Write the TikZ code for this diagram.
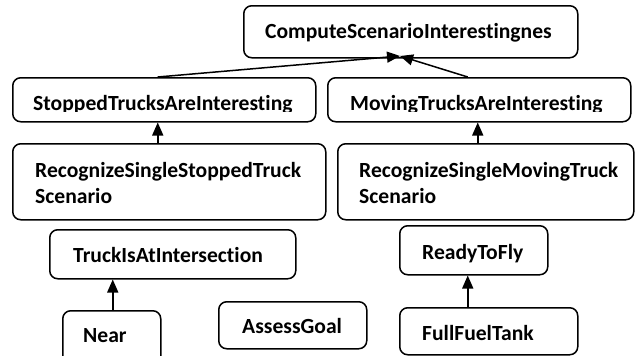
\documentclass[tikz,border=0pt]{standalone}
\usepackage{fontspec}
\setmainfont{Carlito}[RawFeature={-liga;-clig;-dlig;-calt}]
\usetikzlibrary{arrows.meta}
\begin{document}
\begin{tikzpicture}[x=1pt,y=-1pt,
  box/.style={draw, rounded corners=8pt, line width=1.5pt, inner sep=0pt, anchor=north west},
  lbl/.style={font=\bfseries\fontsize{21.6}{26}\selectfont, inner sep=0pt, anchor=base west},
  arr/.style={-{Triangle[length=13pt,width=11pt]}, line width=1.5pt}]
\useasboundingbox (0,0) rectangle (635,356);
\fill[white] (0,0) rectangle (635,356);
\clip (0,0) rectangle (635,356);
% boxes
\node[box, minimum width=334pt, minimum height=52pt] (cmp) at (243,5) {};
\node[box, minimum width=303pt, minimum height=44pt] (sta) at (12,77) {};
\node[box, minimum width=303pt, minimum height=44pt] (mov) at (327,77) {};
\node[box, minimum width=313pt, minimum height=76pt] (rss) at (12,143) {};
\node[box, minimum width=296pt, minimum height=76pt] (rsm) at (337,143) {};
\node[box, minimum width=246pt, minimum height=49pt] (tia) at (49,229) {};
\node[box, minimum width=98pt, minimum height=56pt] (nea) at (62,310) {};
\node[box, minimum width=148pt, minimum height=47pt] (ass) at (218,301) {};
\node[box, minimum width=148pt, minimum height=49pt] (rdy) at (399,225) {};
\node[box, minimum width=178pt, minimum height=47pt] (ful) at (399,307) {};
% texts
\node[lbl] (tcmp) at (265,38.5) {ComputeScenarioInterestingnes};
\begin{scope}
\clip (12,77) rectangle (630,111);
\node[lbl] (tsta) at (33,110) {StoppedTrucksAreInteresting};
\node[lbl] (tmov) at (350,110) {MovingTrucksAreInteresting};
\end{scope}
\node[lbl] (trss1) at (35,177.5) {RecognizeSingleStoppedTruck};
\node[lbl] (trss2) at (35,203.5) {Scenario};
\node[lbl] (trsm1) at (359,177.5) {RecognizeSingleMovingTruck};
\node[lbl] (trsm2) at (359,203.5) {Scenario};
\node[lbl] (ttia) at (73,262.5) {TruckIsAtIntersection};
\node[lbl] (tnea) at (83,342.5) {Near};
\node[lbl] (tass) at (242,333.5) {AssessGoal};
\node[lbl] (trdy) at (422,259.5) {ReadyToFly};
\node[lbl] (tful) at (422,340.5) {FullFuelTank};
% connectors
\coordinate (cin) at (400,56);
\draw[arr] ([xshift=-6.5pt]sta.north) -- (cin);
\draw[arr] ([xshift=-11.5pt]mov.north) -- (cin);
\coordinate (a1) at ([xshift=-11.5pt]rss.north);
\draw[arr] (a1) -- (a1 |- sta.south);
\coordinate (a2) at ([xshift=-8pt]rsm.north);
\draw[arr] (a2) -- (a2 |- mov.south);
\coordinate (a3) at ([xshift=1pt]nea.north);
\draw[arr] (a3) -- (a3 |- tia.south);
\coordinate (a4) at ([xshift=-21pt]ful.north);
\draw[arr] (a4) -- (a4 |- rdy.south);
\end{tikzpicture}
\end{document}
